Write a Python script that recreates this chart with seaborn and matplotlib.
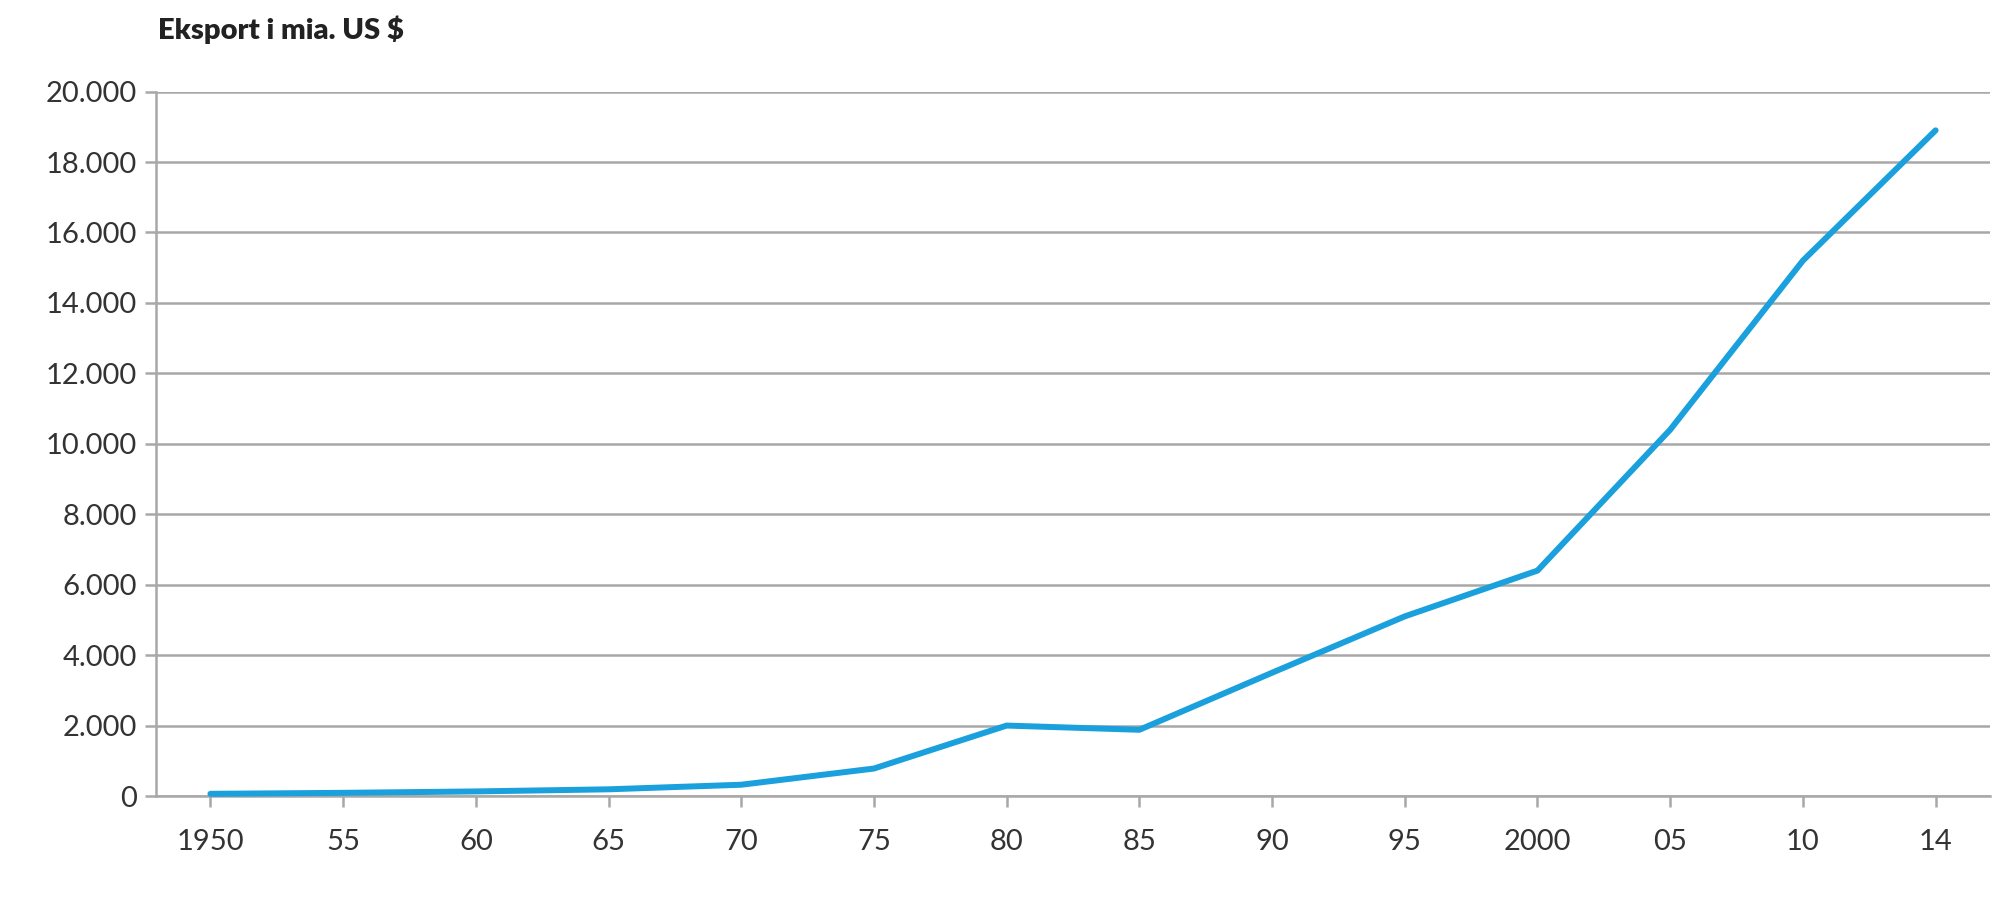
import matplotlib
matplotlib.use("Agg")
import matplotlib.pyplot as plt
import seaborn as sns
import pandas as pd

years = ["1950", "55", "60", "65", "70", "75", "80", "85", "90", "95", "2000", "05", "10", "14"]
exports = [62, 90, 130, 190, 320, 780, 2000, 1880, 3500, 5100, 6400, 10400, 15200, 18900]
yticks = [0, 2000, 4000, 6000, 8000, 10000, 12000, 14000, 16000, 18000, 20000]
ytick_labels = ["0", "2.000", "4.000", "6.000", "8.000", "10.000", "12.000", "14.000", "16.000", "18.000", "20.000"]

sns.set_style("white")
plt.rcParams['font.family'] = ['Lato', 'DejaVu Sans']

df = pd.DataFrame({"pos": range(len(years)), "val": exports})
fig = plt.figure(figsize=(20, 9.16), dpi=100)
ax = fig.add_axes([0.078, 0.131, 0.917, 0.769])
sns.lineplot(data=df, x="pos", y="val", ax=ax, color="#1aa0dd", linewidth=4.3, clip_on=False, zorder=3)

ax.set_xlim(-0.41, 13.41)
ax.set_ylim(0, 20000)
ax.set_yticks(yticks)
ax.set_yticklabels(ytick_labels)
ax.set_xticks(range(len(years)))
ax.set_xticklabels(years)
ax.yaxis.grid(True, color="#a8a8a8", linewidth=1.8)
ax.set_axisbelow(True)
for s in ["top", "right"]:
    ax.spines[s].set_visible(False)
for s in ["left", "bottom"]:
    ax.spines[s].set_color("#a8a8a8")
    ax.spines[s].set_linewidth(1.8)
ax.tick_params(axis="both", which="both", length=8, width=1.8, color="#a8a8a8",
               labelsize=21, labelcolor="#333333", left=True, bottom=True)
ax.tick_params(axis="x", pad=16)
ax.tick_params(axis="y", pad=6)
ax.set_xlabel("")
ax.set_ylabel("")
fig.text(0.079, 0.967, "Eksport i mia. US $", fontsize=21, fontweight="heavy", color="#222222", va="center", ha="left")
fig.savefig("out.png", dpi=100)
